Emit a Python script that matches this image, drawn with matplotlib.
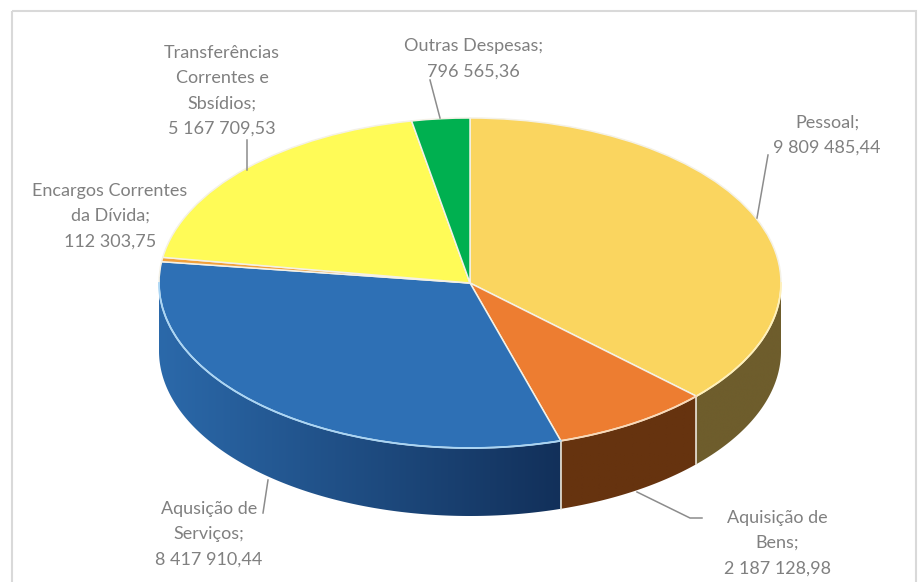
import numpy as np
import matplotlib
matplotlib.use("Agg")
import matplotlib.pyplot as plt
from matplotlib.colors import to_rgb
from matplotlib.patches import Polygon, Rectangle

plt.rcParams['font.family'] = ['Lato', 'DejaVu Sans']

# values in the order they go round the pie, clockwise from the top
categories = ["Pessoal", "Aquisição de Bens", "Aquisição de Serviços",
              "Encargos Correntes da Dívida", "Transferências Correntes e Sbsídios", "Outras Despesas"]
values = [9809485.44, 2187128.98, 8417910.44, 112303.75, 5167709.53, 796565.36]
top_colors = ["#FAD55F", "#ED7D31", "#2E70B5", "#F2A13C", "#FFFB57", "#00B050"]
rim_colors = ["#FFF0B8", "#F9D9B8", "#A9D5F5", "#F2A13C", "#FFFB57", "#00B050"]
# side wall colour at the left and right end of each slice
wall_left = ["#6E5D2C", "#66330F", "#2B69AA", "#F2A13C", "#FFFB57", "#00B050"]
wall_right = ["#6E5D2C", "#66330F", "#12305A", "#F2A13C", "#FFFB57", "#00B050"]

label_texts = ["Pessoal;\n9 809 485,44", "Aquisição de\nBens;\n2 187 128,98", "Aqusição de\nServiços;\n8 417 910,44",
               "Encargos Correntes\nda Dívida;\n112 303,75", "Transferências\nCorrentes e\nSbsídios;\n5 167 709,53",
               "Outras Despesas;\n796 565,36"]
label_x = [827, 777, 209, 110, 222, 473]
label_y = [135, 543, 534, 216, 91, 59]

leaders = [([757, 768], [218, 155]),
           ([637, 690, 702], [492, 518, 518]),
           ([268, 263], [480, 513]),
           ([247, 247], [140, 170]),
           ([430, 440], [80, 118])]

cx, cy = 470, 283
rx, ry = 311, 165
depth = 68 / ry

fig = plt.figure(figsize=(9.19, 5.82), dpi=100)
ax = fig.add_axes([0, 0, 1, 1])

# side wall first, only the front half of the ellipse shows
angles = 90 - np.cumsum([0] + values) / sum(values) * 360
for i in range(len(values)):
    t1, t0 = angles[i], angles[i + 1]
    lo, hi = max(t0, -180), min(t1, 0)
    if hi <= lo:
        continue
    arc = np.radians(np.linspace(lo, hi, 200))
    xs = np.cos(arc)
    ys = np.sin(arc)
    outline = np.column_stack([np.r_[xs, xs[::-1]], np.r_[ys, ys[::-1] - depth]])
    shape = Polygon(outline, closed=True, facecolor='none', edgecolor='none', transform=ax.transData)
    ax.add_patch(shape)
    c0, c1 = np.array(to_rgb(wall_left[i])), np.array(to_rgb(wall_right[i]))
    f = np.linspace(0, 1, 256)[:, None]
    grad = (c0 + (c1 - c0) * f)[None, :, :]
    img = ax.imshow(grad, extent=(xs.min(), xs.max(), ys.min() - depth, ys.max()), aspect='auto',
                    interpolation='bilinear', zorder=0.5)
    img.set_clip_path(shape)
    # pale seam between neighbouring walls
    if lo > -180:
        x, y = np.cos(np.radians(lo)), np.sin(np.radians(lo))
        ax.plot([x, x], [y, y - depth], color="#E8E4D8", lw=1.2, zorder=0.7)

wedges, _ = ax.pie(values, colors=top_colors, startangle=90, counterclock=False, radius=1,
                   wedgeprops=dict(edgecolor="#F4F1E6", linewidth=1.1))

# pale rim on the front edge of the top face
for i in range(len(values)):
    t1, t0 = angles[i], angles[i + 1]
    lo, hi = max(t0, -180), min(t1, 0)
    if hi <= lo:
        continue
    arc = np.radians(np.linspace(lo, hi, 120))
    ax.plot(np.cos(arc), np.sin(arc), color=rim_colors[i], lw=1.3, zorder=3)

# 1 unit of the pie is rx pixels across and ry pixels down
ax.set_aspect('auto')
ax.set_xlim(-cx / rx, (919 - cx) / rx)
ax.set_ylim(-(582 - cy) / ry, cy / ry)
ax.axis('off')

# overlay in pixel coordinates for the frame, the labels and their leader lines
ann = fig.add_axes([0, 0, 1, 1], facecolor='none')
ann.set_xlim(0, 919)
ann.set_ylim(582, 0)
ann.axis('off')
ann.add_patch(Rectangle((11.5, 10.5), 904, 575, fill=False, edgecolor="#D9D9D9", lw=1.5))

for xs, ys in leaders:
    ann.plot(xs, ys, color="#8C8C8C", lw=1.1)

for txt, x, y in zip(label_texts, label_x, label_y):
    ann.text(x, y, txt, ha='center', va='center', fontsize=13, color="#808080", linespacing=1.72)

fig.savefig("out.png", dpi=100, facecolor='white')
